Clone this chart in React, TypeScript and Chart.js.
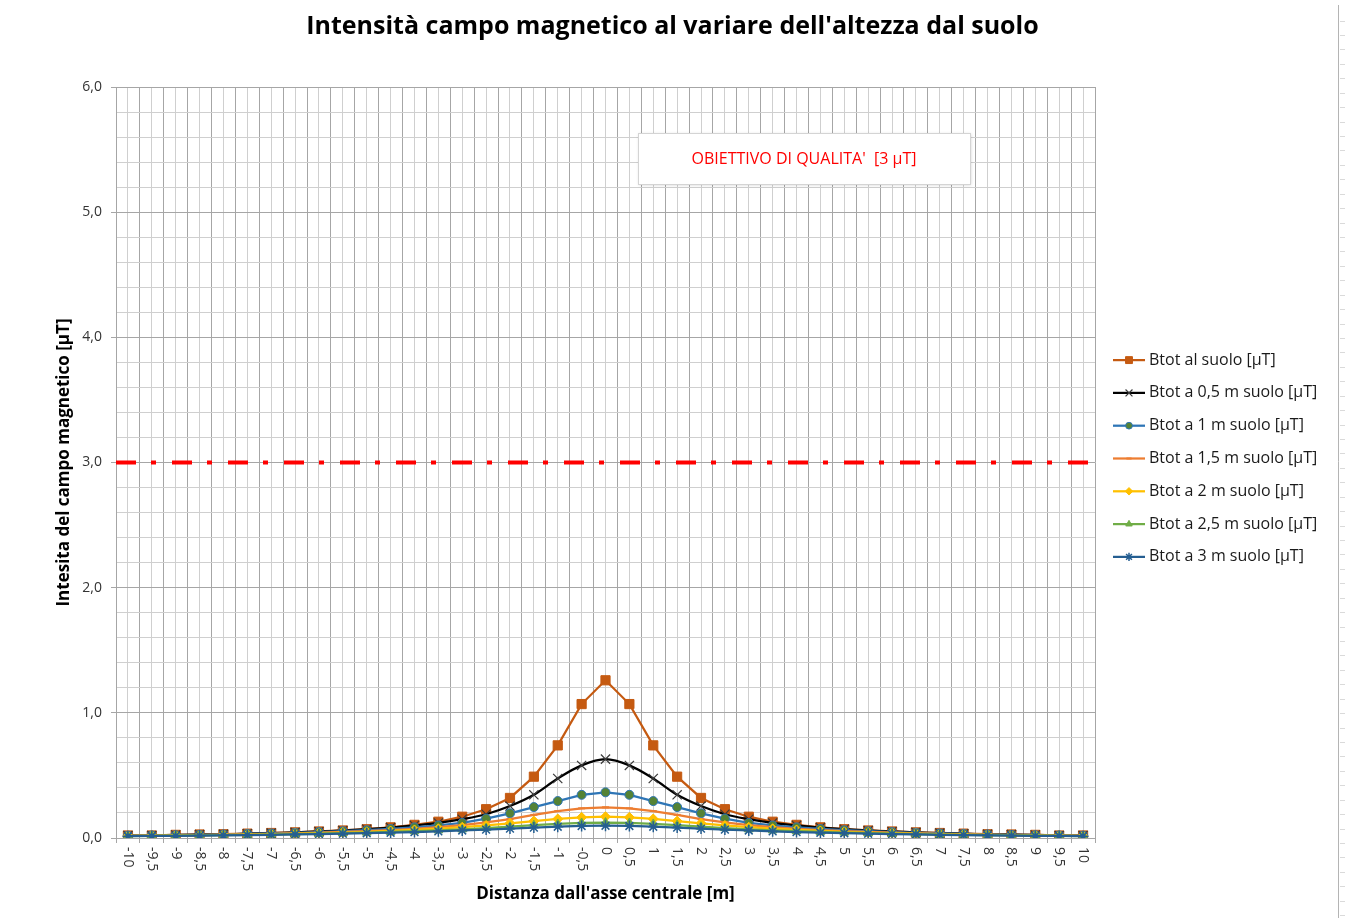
import React, { useEffect, useRef } from 'react';
import { Chart, registerables } from 'chart.js';
import { drawPoint } from 'chart.js/helpers';

Chart.register(...registerables);

// ---------- DATA ----------
const DIST = [
  -10, -9.5, -9, -8.5, -8, -7.5, -7, -6.5, -6, -5.5, -5, -4.5, -4, -3.5, -3, -2.5, -2, -1.5, -1, -0.5,
  0, 0.5, 1, 1.5, 2, 2.5, 3, 3.5, 4, 4.5, 5, 5.5, 6, 6.5, 7, 7.5, 8, 8.5, 9, 9.5, 10,
];

const B_SUOLO = [
  0.02, 0.02, 0.025, 0.028, 0.03, 0.035, 0.04, 0.045, 0.052, 0.06, 0.07, 0.085, 0.105, 0.13, 0.17, 0.23, 0.32, 0.49, 0.74, 1.07,
  1.26, 1.07, 0.74, 0.49, 0.32, 0.23, 0.17, 0.13, 0.105, 0.085, 0.07, 0.06, 0.052, 0.045, 0.04, 0.035, 0.03, 0.028, 0.025, 0.02, 0.02,
];
const B_05 = [
  0.02, 0.02, 0.024, 0.027, 0.03, 0.034, 0.039, 0.045, 0.052, 0.06, 0.07, 0.083, 0.1, 0.12, 0.15, 0.19, 0.255, 0.345, 0.475, 0.58,
  0.63, 0.58, 0.475, 0.345, 0.255, 0.19, 0.15, 0.12, 0.1, 0.083, 0.07, 0.06, 0.052, 0.045, 0.039, 0.034, 0.03, 0.027, 0.024, 0.02, 0.02,
];
const B_1 = [
  0.018, 0.02, 0.022, 0.025, 0.028, 0.032, 0.036, 0.041, 0.047, 0.054, 0.062, 0.072, 0.085, 0.1, 0.12, 0.155, 0.197, 0.247, 0.295, 0.345,
  0.365, 0.345, 0.295, 0.247, 0.197, 0.155, 0.12, 0.1, 0.085, 0.072, 0.062, 0.054, 0.047, 0.041, 0.036, 0.032, 0.028, 0.025, 0.022, 0.02, 0.018,
];
const B_15 = [
  0.017, 0.019, 0.021, 0.023, 0.026, 0.029, 0.033, 0.037, 0.042, 0.048, 0.055, 0.063, 0.073, 0.086, 0.102, 0.125, 0.15, 0.185, 0.215, 0.237,
  0.245, 0.237, 0.215, 0.185, 0.15, 0.125, 0.102, 0.086, 0.073, 0.063, 0.055, 0.048, 0.042, 0.037, 0.033, 0.029, 0.026, 0.023, 0.021, 0.019, 0.017,
];
const B_2 = [
  0.016, 0.018, 0.02, 0.022, 0.024, 0.027, 0.03, 0.034, 0.038, 0.043, 0.049, 0.056, 0.064, 0.074, 0.086, 0.1, 0.117, 0.135, 0.152, 0.165,
  0.17, 0.165, 0.152, 0.135, 0.117, 0.1, 0.086, 0.074, 0.064, 0.056, 0.049, 0.043, 0.038, 0.034, 0.03, 0.027, 0.024, 0.022, 0.02, 0.018, 0.016,
];
const B_25 = [
  0.015, 0.017, 0.018, 0.02, 0.022, 0.025, 0.027, 0.03, 0.034, 0.038, 0.043, 0.048, 0.054, 0.061, 0.069, 0.079, 0.09, 0.102, 0.112, 0.12,
  0.123, 0.12, 0.112, 0.102, 0.09, 0.079, 0.069, 0.061, 0.054, 0.048, 0.043, 0.038, 0.034, 0.03, 0.027, 0.025, 0.022, 0.02, 0.018, 0.017, 0.015,
];
const B_3 = [
  0.014, 0.016, 0.017, 0.019, 0.021, 0.023, 0.025, 0.028, 0.031, 0.034, 0.038, 0.042, 0.047, 0.053, 0.06, 0.067, 0.075, 0.083, 0.09, 0.096,
  0.098, 0.096, 0.09, 0.083, 0.075, 0.067, 0.06, 0.053, 0.047, 0.042, 0.038, 0.034, 0.031, 0.028, 0.025, 0.023, 0.021, 0.019, 0.017, 0.016, 0.014,
];

const SERIES_LABELS = [
  'Btot al suolo [µT]',
  'Btot a 0,5 m suolo [µT]',
  'Btot a 1 m suolo [µT]',
  'Btot a 1,5 m suolo [µT]',
  'Btot a 2 m suolo [µT]',
  'Btot a 2,5 m suolo [µT]',
  'Btot a 3 m suolo [µT]',
];
const SERIES_VALUES = [B_SUOLO, B_05, B_1, B_15, B_2, B_25, B_3];

const THRESHOLD = 3;
const THRESHOLD_X = [-10.25, 10.25];
const THRESHOLD_LABEL = "OBIETTIVO DI QUALITA'  [3 µT]";

const TITLE = "Intensità campo magnetico al variare dell'altezza dal suolo";
const X_TITLE = "Distanza dall'asse centrale [m]";
const Y_TITLE = 'Intesita del campo magnetico [µT]';
const Y_MIN = 0;
const Y_MAX = 6;
const X_MIN = -10.25;
const X_MAX = 10.25;

// ---------- STYLES ----------
const FONT = '"Open Sans", Lato, "Liberation Sans", Arial, sans-serif';
const STYLES = [
  { line: '#C55A11', fill: '#C55A11', border: '#C55A11', point: 'rect', r: 6.5, pbw: 1, tension: 0 },
  { line: '#000000', fill: '#000000', border: '#3a3a3a', point: 'crossRot', r: 6.5, pbw: 1.2, tension: 0.35 },
  { line: '#2E75B6', fill: '#548235', border: '#2E75B6', point: 'circle', r: 4.5, pbw: 1, tension: 0 },
  { line: '#ED7D31', fill: '#ED7D31', border: '#ED7D31', point: 'line', r: 3.5, pbw: 2, tension: 0 },
  { line: '#FFC000', fill: '#FFC000', border: '#FFC000', point: 'rectRot', r: 5, pbw: 1, tension: 0 },
  { line: '#70AD47', fill: '#70AD47', border: '#70AD47', point: 'triangle', r: 5, pbw: 1, tension: 0 },
  { line: '#255E91', fill: '#255E91', border: '#255E91', point: 'star', r: 5.5, pbw: 1.5, tension: 0 },
];

const fmtNum = (v: number, digits?: number) => {
  const s = digits !== undefined ? v.toFixed(digits) : String(Math.abs(v) < 1e-9 ? 0 : v);
  return s.replace('.', ',');
};
const isInt = (v: number) => Math.abs(v - Math.round(v)) < 1e-6;
const isHalf = (v: number) => isInt(v * 2);

const decorPlugin = {
  id: 'decor',
  afterDraw(chart: any) {
    const { ctx, chartArea, scales } = chart;
    const xs = scales.x;

    // main title, centred on the whole picture
    ctx.save();
    ctx.font = `bold 25px ${FONT}`;
    ctx.fillStyle = '#000';
    ctx.textAlign = 'center';
    ctx.textBaseline = 'middle';
    ctx.fillText(TITLE, chart.width / 2, 27);
    ctx.restore();

    // x tick labels (rotated clockwise)
    ctx.save();
    ctx.font = `14px ${FONT}`;
    ctx.fillStyle = '#333333';
    ctx.textAlign = 'left';
    ctx.textBaseline = 'middle';
    DIST.forEach((d) => {
      const px = xs.getPixelForValue(d);
      ctx.save();
      ctx.translate(px, chartArea.bottom + 9);
      ctx.rotate(Math.PI / 2);
      ctx.fillText(fmtNum(d), 0, 0);
      ctx.restore();
    });
    ctx.restore();

    // legend
    const rowStep = 32.8;
    const centerY = (chartArea.top + chartArea.bottom) / 2 - 4;
    const lx = chartArea.right + 18;
    ctx.save();
    SERIES_LABELS.forEach((label, i) => {
      const st = STYLES[i];
      const y = centerY + (i - 3) * rowStep;
      ctx.strokeStyle = st.line;
      ctx.lineWidth = 2.25;
      ctx.setLineDash([]);
      ctx.beginPath();
      ctx.moveTo(lx, y);
      ctx.lineTo(lx + 32, y);
      ctx.stroke();
      ctx.fillStyle = st.fill;
      ctx.strokeStyle = st.border;
      ctx.lineWidth = st.pbw;
      drawPoint(ctx, { pointStyle: st.point, radius: st.r * 0.75, rotation: 0, borderWidth: st.pbw } as any, lx + 16, y);
      ctx.fillStyle = '#1a1a1a';
      ctx.font = `16px ${FONT}`;
      ctx.textAlign = 'left';
      ctx.textBaseline = 'middle';
      ctx.fillText(label, lx + 36, y);
    });
    ctx.restore();

    // annotation box
    ctx.save();
    const bx = 638, by = 133, bw = 332, bh = 51;
    ctx.shadowColor = 'rgba(0,0,0,0.18)';
    ctx.shadowBlur = 3;
    ctx.shadowOffsetX = 1;
    ctx.shadowOffsetY = 1;
    ctx.fillStyle = '#ffffff';
    ctx.fillRect(bx, by, bw, bh);
    ctx.shadowColor = 'transparent';
    ctx.strokeStyle = '#d4d4d4';
    ctx.lineWidth = 1;
    ctx.strokeRect(bx + 0.5, by + 0.5, bw, bh);
    ctx.fillStyle = '#FF0000';
    ctx.font = `16px ${FONT}`;
    ctx.textAlign = 'center';
    ctx.textBaseline = 'middle';
    ctx.fillText(THRESHOLD_LABEL, bx + bw / 2, by + bh / 2 + 1);
    ctx.restore();

    // worksheet border on the right
    ctx.save();
    ctx.strokeStyle = '#b4b4b4';
    ctx.lineWidth = 1;
    ctx.beginPath();
    ctx.moveTo(1338.5, 5);
    ctx.lineTo(1338.5, 918);
    ctx.stroke();
    ctx.strokeStyle = '#dadada';
    for (let yy = 20.5; yy < 918; yy += 14.43) {
      ctx.beginPath();
      ctx.moveTo(1340, Math.round(yy) + 0.5);
      ctx.lineTo(1345, Math.round(yy) + 0.5);
      ctx.stroke();
    }
    ctx.restore();
  },
};

export default function App() {
  const ref = useRef<HTMLCanvasElement | null>(null);

  useEffect(() => {
    if (!ref.current) return;
    const datasets: any[] = SERIES_VALUES.map((vals, i) => {
      const st = STYLES[i];
      return {
        label: SERIES_LABELS[i],
        data: DIST.map((x, j) => ({ x, y: vals[j] })),
        borderColor: st.line,
        backgroundColor: st.fill,
        borderWidth: 2.25,
        pointStyle: st.point,
        pointRadius: st.r,
        pointBackgroundColor: st.fill,
        pointBorderColor: st.border,
        pointBorderWidth: st.pbw,
        tension: st.tension,
        order: 10 - i,
      };
    });
    datasets.push({
      label: 'Obiettivo di qualità',
      data: THRESHOLD_X.map((x) => ({ x, y: THRESHOLD })),
      borderColor: '#FF0000',
      borderWidth: 4,
      borderDash: [20, 15, 5, 16],
      pointRadius: 0,
      order: 0,
    });

    const chart = new Chart(ref.current, {
      type: 'line',
      data: { datasets },
      options: {
        animation: false,
        responsive: false,
        devicePixelRatio: 1,
        layout: { padding: { left: 0, right: 250, top: 87, bottom: 0 } },
        plugins: {
          legend: { display: false },
          tooltip: { enabled: false },
          title: { display: false },
        },
        scales: {
          x: {
            type: 'linear',
            min: X_MIN,
            max: X_MAX,
            ticks: { stepSize: 0.25, display: false },
            grid: {
              color: (c: any) => (c.tick && !isHalf(c.tick.value) ? '#a6a6a6' : '#cfcfcf'),
              tickColor: (c: any) => (c.tick && !isHalf(c.tick.value) ? '#a6a6a6' : 'rgba(0,0,0,0)'),
              tickLength: 5,
              lineWidth: 1,
            },
            border: { color: '#a6a6a6' },
            title: {
              display: true,
              text: X_TITLE,
              color: '#000',
              font: { family: FONT, size: 17, weight: 'bold' },
              padding: { bottom: 14 },
            },
            afterFit: (s: any) => {
              s.height = 80;
            },
          },
          y: {
            type: 'linear',
            min: Y_MIN,
            max: Y_MAX,
            ticks: {
              stepSize: 0.2,
              autoSkip: false,
              padding: 9,
              color: '#333333',
              font: { family: FONT, size: 14 },
              callback: (v: any) => (isInt(Number(v)) ? fmtNum(Number(v), 1) : ''),
            },
            grid: {
              color: (c: any) => (c.tick && isInt(c.tick.value) ? '#a6a6a6' : '#cfcfcf'),
              tickColor: (c: any) => (c.tick && isInt(c.tick.value) ? '#a6a6a6' : 'rgba(0,0,0,0)'),
              tickLength: 5,
            },
            border: { color: '#a6a6a6' },
            title: {
              display: true,
              text: Y_TITLE,
              color: '#000',
              font: { family: FONT, size: 17, weight: 'bold' },
              padding: { top: 54 },
            },
            afterFit: (s: any) => {
              s.width = 116;
            },
          },
        },
      } as any,
      plugins: [decorPlugin],
    });
    return () => chart.destroy();
  }, []);

  return (
    <div style={{ position: 'absolute', left: 0, top: 0, width: 1345, height: 918, background: '#fff' }}>
      <canvas ref={ref} width={1345} height={918} style={{ display: 'block' }} />
    </div>
  );
}
